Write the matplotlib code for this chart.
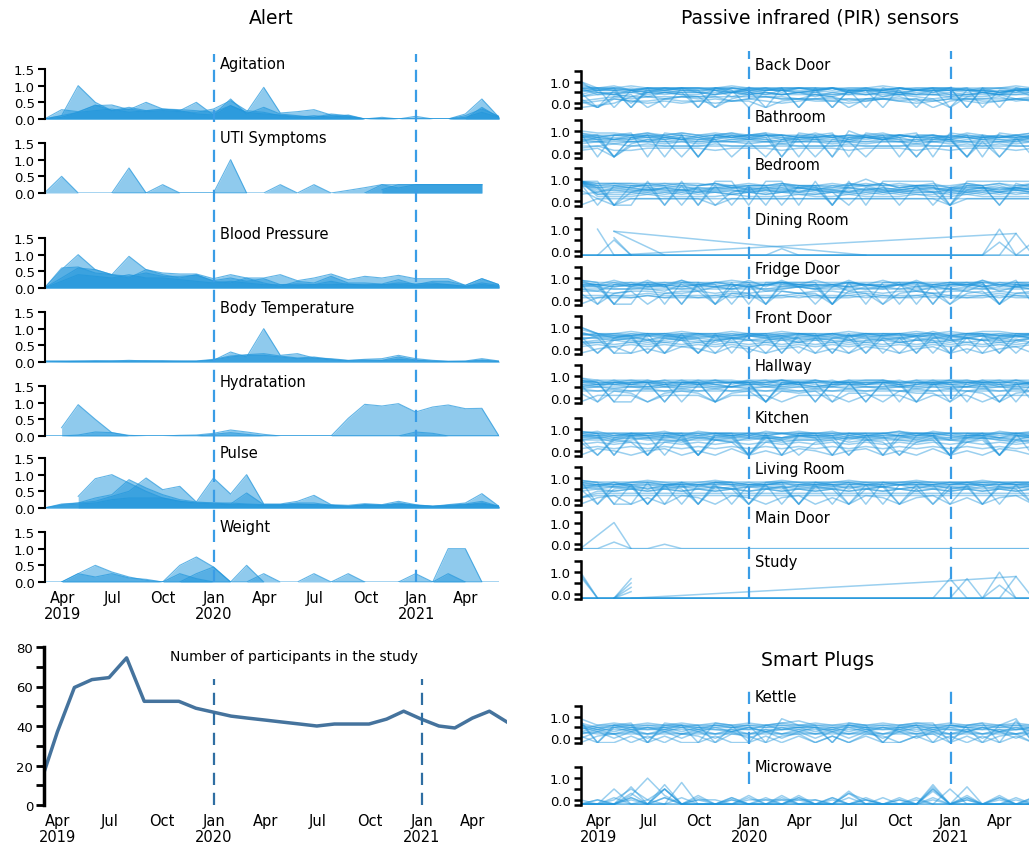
import matplotlib
matplotlib.use('Agg')
import matplotlib.pyplot as plt
from matplotlib.ticker import FixedLocator, FormatStrFormatter
import pandas as pd
from datetime import datetime

# month-end sample dates, Feb 2019 .. May 2021 (28 points)
months = list((pd.date_range('2019-03-01', periods=28, freq='MS') - pd.Timedelta(days=1)).to_pydatetime())

tick_dates = [datetime(2019, 4, 1), datetime(2019, 7, 1), datetime(2019, 10, 1),
              datetime(2020, 1, 1), datetime(2020, 4, 1), datetime(2020, 7, 1),
              datetime(2020, 10, 1), datetime(2021, 1, 1), datetime(2021, 4, 1)]
tick_labels = ['Apr\n2019', 'Jul', 'Oct', 'Jan\n2020', 'Apr', 'Jul', 'Oct', 'Jan\n2021', 'Apr']
year_marks = [datetime(2020, 1, 1), datetime(2021, 1, 1)]

# ---- Alerts (one list per participant group, None = no data) ----
agitation = [
    [0, .28, .22, .4, .42, .28, .5, .3, .28, .25, .2, .4, .2, .95, .18, .22, .28, .12, .08, 0, .05, 0, .08, 0, 0, 0, .35, .05],
    [0, .1, 1.0, .5, .25, .35, .25, .3, .25, .5, .12, .6, .15, .35, .15, .1, .05, .15, .1, 0, 0, 0, 0, 0, 0, .15, .6, .05],
    [0, .05, .2, .42, .25, .3, .22, .25, .22, .2, .3, .55, .25, .2, .1, .05, .1, .05, .12, 0, 0, 0, 0, 0, 0, .1, .3, .08],
    [0, .1, .2, .25, .3, .2, .25, .28, .25, .15, .12, .4, .2, .15, .12, .08, .05, .1, .05, 0, .02, 0, 0, 0, 0, .05, .2, .05],
]
uti_symptoms = [
    [0, .5, 0, 0, 0, 0, 0, 0, 0, 0, 0, 0, 0, 0, .25, 0, .25, 0, .08, .16, .25, .25, .25, .25, .25, .25, .25, None],
    [None] * 4 + [0, .75, 0] + [None] * 21,
    [None] * 6 + [0, .25, 0, 0, 0, 1.0, 0] + [None] * 15,
    [None] * 19 + [0, .25, .15, .25, .25, .25, .25, .25, None],
    [None] * 20 + [.1, .25, .25, .25, .25, .25, .25, None],
]
blood_pressure = [
    [0, .55, 1.0, .55, .4, .95, .55, .45, .42, .42, .28, .4, .3, .3, .4, .22, .3, .42, .25, .35, .3, .38, .28, .28, .28, .08, .28, .1],
    [0, .6, .63, .45, .4, .3, .55, .4, .3, .4, .2, .15, .3, .15, .05, .2, .15, .35, .15, .15, .12, .25, .1, .2, .2, .08, .28, .1],
    [0, .3, .6, .55, .4, .35, .45, .35, .35, .38, .22, .3, .2, .28, .1, .12, .1, .2, .1, .1, .1, .15, .12, .15, .1, .05, .15, .08],
    [0, .2, .4, .35, .3, .4, .3, .3, .25, .2, .15, .2, .15, .1, .1, .08, .1, .1, .12, .08, .1, .1, .08, .1, .1, .05, .1, .05],
]
body_temperature = [
    [.03, .02, .03, .02, .03, .02, .04, .02, .03, .02, .05, .3, .15, 1.0, .2, .25, .12, .1, .05, .08, .1, .2, .1, .05, .02, .03, .1, .03],
    [.02, .03, .02, .04, .03, .05, .03, .04, .02, .03, .08, .18, .22, .25, .18, .12, .15, .08, .04, .06, .05, .15, .06, .03, .02, .02, .06, .02],
    [0, .01, .02, .02, .02, .03, .02, .02, .02, .02, .06, .15, .2, .2, .15, .1, .12, .06, .03, .04, .04, .08, .05, .02, .01, .01, .04, .01],
]
hydratation = [
    [None, .25, .94, .5, .1, .02, 0, 0, 0, 0, .05, .1, .05, 0, 0, 0, 0, 0, 0, 0, 0, 0, 0, 0, 0, 0, 0, 0],
    [0] * 18 + [.53, .95, .9, .97, .72, .87, .93, .82, .83, 0],
    [0, 0, .03, .12, .1, 0, 0, 0, .02, .03, .08, .18, .12, .05, 0, 0, 0, 0, 0, 0, 0, 0, .12, .08, 0, 0, 0, 0],
]
pulse = [
    [None, None, .35, .88, 1.0, .75, .5, .3, .2, .15, .12, .1, .1, .08, .08, .1, .1, .08, .05, .08, .08, .1, .08, .05, .05, .1, .15, .05],
    [0, .12, .15, .3, .4, .85, .6, .4, .25, .18, .15, .15, .12, .1, .1, .12, .1, .08, .05, .1, .08, .12, .08, .05, .08, .1, .12, .05],
    [0, .1, .15, .2, .35, .5, .9, .55, .65, .18, .9, .42, 1.0, .12, .12, .2, .38, .1, .08, .13, .1, .2, .1, .05, .1, .15, .43, .05],
    [0, .08, .12, .15, .25, .3, .3, .3, .2, .15, .15, .12, .45, .1, .1, .15, .15, .08, .05, .1, .08, .15, .08, .05, .08, .12, .2, .05],
]
weight = [
    [None, 0, .25, .5, .3, .15, .05, 0] + [None] * 20,
    [None, 0, .25, .15, .25, .12, .08, 0] + [None] * 20,
    [None] * 7 + [0, .5, .75, .45, 0] + [None] * 16,
    [None] * 7 + [0, .25, .1, 0] + [None] * 17,
    [None] * 8 + [0, .25, .45, 0, .5, 0] + [None] * 14,
    [0] * 13 + [.25, 0, 0, .25] + [0] * 11,
    [None] * 17 + [0, .25, 0] + [None] * 8,
    [None] * 21 + [0, .25, 0, 1.0, 1.0, 0, None],
    [None] * 23 + [0, .25, 0, None, None],
]

participants = [10, 37, 59.5, 63.5, 64.5, 74.5, 52.5, 52.5, 52.5, 49, 47, 45, 44, 43,
                42, 41, 40, 41, 41, 41, 43.5, 47.5, 43.5, 40, 39, 44, 47.5, 42]

# ---- Sensors: one string per participant, one char per month
# digit = tenths, 'a' = 1.0, 'z' = axis floor (-0.2), '.' = no data
back_door = [
    "a7z67z7 z76z67z 7z6z76z 67z7z76", "9667667 6657667 6566676 6656566",
    "5776767 7676767 7767676 7766776", "3455454 3454545 4354545 4345445",
    "1232323 2312322 2312231 2322312", "667z656 6z56665 6z65656 7z66566",
    "776z777 5776z77 7677567 77z7765", "z.03333 3333322 2222222 1222222",
    "8786777 7777777 6766676 6666566", "7443555 5555444 4444444 4444444",
    "4676567 7656757 6757676 7667567", "1z21121 1211z12 1121212 z121121",
    "a550545 5454545 5454554 4545455", "2z34z23 3z24332 43z2343 2z33423",
    "6545676 5476545 6756546 5765476", "7666576 6757666 5766756 6675667",
    "3546354 4635465 3546354 6435463", "0121010 1012101 2101210 1210121",
    "7778777 7787777 7777877 7777787", "5z65765 z76567z 6756z76 567z657",
]
bathroom = [
    "88z78z8 z87888z 8za78z8 87z8z78", "9888889 8878887 7787787 7777777",
    "7666776 6766676 6676766 6676667", "5545545 4554545 5454554 5454545",
    "3343433 3433343 3343334 3343433", "77z7767 z7767z7 7z7767z 76z777z",
    "a998989 8988988 8787887 8787878", "2311222 2122212 2212221 2122212",
    "66z466z 66z5z66 z65z66z 66z5z66", "4565656 5656565 6565656 5656565",
    "8787878 7878787 7878787 7878787", "12z3333 3333333 3333333 3333333",
    "9z89z98 z8989z9 89z9889 z98z989", "6555555 5555555 5555555 5555555",
    "8676867 6786876 7867687 6876786", "7868786 8687868 7868687 8687868",
    "5767576 7567657 6757675 7567657", "9788978 7897887 9788978 8798789",
]
bedroom = [
    "99zz9z9 z99z99z 9z9z999 9z99999", "9777776 6666666 5665656 6566565",
    "9555555 5454545 4545454 4545454", "9333434 3434343 3434343 3434343",
    "87z77z7 z7z77z7 7z7a7z7 7z77z77", "9222322 2232223 2232223 2232222",
    "9666565 6565656 6565656 5656565", "51z1111 1111111 1111111 1111111",
    "9888787 7878787 7878787 7787878", "76z4654 6z46546 54z6456 4z56465",
    "3454545 4545454 5454545 4545454", "9888888 8777777 7777777 7666666",
    "8z7687z 7867z87 6z87867 z687z86", "z111111 1z11111 1111111 1z11111",
    "9676567 5675676 5767567 6576756", "9465465 4654564 6546545 6454654",
    "9787678 7867786 7687867 8677868", "8344343 4434344 3443434 4343434",
]
dining_room = [
    ".az.... ....... ....... .......", "..z.... ....... ....... .....8.",
    "..9.... ....... ...z... .......", ".z5z... ....... ....... .......",
    "..6z... ....... ....... .......", "..9..z. ....... ....... .......",
    "zzzzzzz zzzzz1z zzzzzzz zzzzzzz", "zzzzzzz zzzzzzz zzzzzzz zzzzazz",
    "zzzzzzz zzzzzzz zzzzzzz zzzzz8z", "zzzzzzz zzzzzzz zzzzzzz zzzz4z4",
]
fridge_door = [
    "98zz8z8 8z8z888 8z8z888 z888z88", "8777787 7877787 7787778 7778777",
    "6655665 6656566 5665656 6565665", "4434434 4343443 4434344 3443434",
    "2222322 2232223 2223222 3222322", "77z777z 77z7z77 7z777z7 z777z77",
    "96z6969 6z69696 z696z69 6z6969z", "1111211 1121112 1112111 2111211",
    "5555555 5555556 5555555 5555555", "8z7867z 8768z87 6z8768z 7868z76",
    "3z34z33 4z33z43 3z43z34 3z34z33", "7767676 7676767 6767676 7676767",
    "z121212 1212121 2121212 1212121", "9888888 8888888 8888888 8888888",
    "7686768 6876786 7687678 6786876", "5476547 4657456 5746574 6547465",
    "6767776 7676776 7767677 6776767", "8797879 7898787 9787978 7879787",
]
front_door = [
    "a7zz7z7 z7z77z7 7z7z77z 7z77z77", "7666666 6666666 6666666 6666666",
    "5545454 5454545 4545454 5454545", "3343434 3434343 4343434 3434343",
    "1212121 2121212 1212121 2121212", "6z56z65 z6566z6 5z66z56 z65z665",
    "a766767 7676767 6767676 8676767", "z01z0z1 0z10z01 z0z10z0 1z0z01z",
    "4z45z54 z45z45z 54z44z5 4z54z45", "7777777 7777777 7777777 7777777",
    "2323232 3232323 2323232 3232323", "55z55z5 5z55z55 z55z55z 55z55z5",
    "8565656 5656565 6565656 5656565", "6757675 7567657 6757675 7567657",
    "7676776 7767677 6767767 7677676", "4656465 6546564 5646546 6456465",
    "9778778 7787787 7787778 7878877", "3454345 4354453 5434534 4354435",
]
hallway = [
    "97zz7z7 7z77z77 z77z7z7 7z77z7z", "8777777 7777787 7777777 7787777",
    "6666566 6656666 5666656 6665666", "4545454 5454545 4545454 5454545",
    "3333333 3333333 3333333 3333333", "2z32z23 2z23z32 3z22z32 2z32z23",
    "77z77z7 7z77z77 z77z77z 77z77z7", "5555555 5555555 5555555 5555555",
    "8686868 6868686 8686868 6868686", "z111z11 1z111z1 11z111z 111z111",
    "6z7667z 6776z67 7z6676z 6776z67", "9888788 8878887 8788878 8878887",
    "4343434 3434343 4343434 3434343", "7867786 8677867 7867786 8677867",
    "6576756 7657567 6576756 7657567", "5665565 6556656 5665565 6556656",
    "8778877 7887788 8778877 7887788", "7677767 6776776 7677767 6776776",
]
kitchen = [
    "98z8z88 z88z8z8 8z88z88 8z88z8z", "8888888 8888888 8888888 8888888",
    "7677767 6776767 7676776 7677676", "5556555 5555655 5565555 5556555",
    "3434343 4343434 3434343 4343434", "1212121 2121212 1212121 2121212",
    "77z77z7 z77z7z7 77z77z7 7z77z77", "6z67z76 z76z667 6z76z67 7z66z76",
    "z10z01z 0z1z0z1 0z01z0z 1z0z10z", "9888888 8888888 8888898 8888888",
    "4z54z45 z54z45z 45z54z4 5z45z54", "6666666 6666666 6666666 6666666",
    "8787878 7878787 8787878 7878787", "7868787 8678768 7867878 8768687",
    "6757675 7567657 6757675 7567657", "8978897 9887989 8978897 9887989",
    "5645654 6546545 5645654 6546545", "7778777 7877787 7787777 8777877",
]
living_room = [
    "98zz8z8 z88z88z 888z888 8888888", "8888888 8888888 8888888 8888888",
    "6777777 7777777 7777777 7777777", "5666566 6656666 5666656 6665666",
    "1445454 5454545 4545454 5454545", "1333333 3333333 3333333 3333333",
    "77z7z7z 77z77z7 7z77z77 z77z77z", "5z56z65 z65z56z 65z56z5 z56z65z",
    "1222222 2222222 2222222 2222222", "9z77z77 z77z77z 77z77z7 7z77z77",
    "6565656 5656565 6565656 5656565", "z12z1z2 1z21z12 z1z21z1 2z1z12z",
    "8787878 7878787 8787878 7878787", "9878987 8987898 7898789 8789878",
    "7686768 6876786 7687678 6786876", "5767576 7567657 6757675 7567657",
    "8778877 7887788 8778877 7887788", "4545454 5454545 4545454 5454545",
]
main_door = [
    "zzzzzzz zzzzzzz zzzzzzz zzzzzzz", "z.az... ....... ....... .......",
    "zz1zz0z zzzzzzz zzzzzzz zzzzzzz",
]
study = [
    "az..... ....... ....... .......", "9z..... ....... ....... .......",
    "8z..... ....... ....... .......", "..z7... ....... ....... .......",
    "..z5... ....... ....... .......", "..z3... ....... ....... .......",
    "..z1... ....... ....... .......", "...z... ....... ....... .6...8.",
    "zzzzzzz zzzzzzz zzzzzzz z7zzzzz", "zzzzzzz zzzzzzz zzzzzzz zz7zzzz",
    "zzzzzzz zzzzzzz zzzzzzz zzzzazz", "zzzzzzz zzzzzzz zzzzzzz zzzz4zz",
    "zzzzzzz zzzzzzz zzzzzzz zzzzz8z",
]
kettle = [
    "8z56z65 6z56z96 5z65z56 z65z69z", "7555555 5555555 5555555 5555555",
    "6444444 4444444 4444444 4444444", "5353535 3535353 5353535 3535353",
    "3222222 2222222 2222222 2222222", "z12z1z2 1z21z12 z1z21z1 2z1z12z",
    "7z67z76 z76z678 6z76z67 7z67z8z", "4666666 6666666 6666666 6666666",
    "1zz1z1z z1zz1z1 z1z1zz1 z1z1z1z", "9676767 6767676 7676767 6767676",
    "0303030 3030303 0303030 3030303", "2424242 4242424 2424242 4242424",
    "5464546 4654645 5464546 4654645", "3535453 5435345 3535453 5435345",
    "6565656 5656565 6565656 5656565", "2323232 3232323 2323232 3232323",
]
microwave = [
    "zzz1z1z 1z1z1z1 z1z1z1z 1z1z1z1", "zzzzzzz zzzzzzz zzzzzzz zzzzzzz",
    "zz5zzz8 zzz2zzz zz4zzzz 7zzz2zz", "zzz6z7z zzzzzzz zz3zzzz 6zzzzzz",
    "zzz2a2z zzzzz2z zzzzzzz z5zzzzz", "zzz3z5z zzzzzz2 zzzzzzz 5zzzzzz",
    "z0z1z1z 0z0z0z0 z0z0z0z 0z0z0z0", "0zz0z5z 00z0000 0z30z0z 5z6zz1z",
    "zz0505z 2zz1z1z z1zz1zz 4z2z1zz", "z0zz0zz zz0zz0z 0zz0zz0 zz0zz0z",
    "zz1zzz1 zz1zzz1 zz1zzz1 zz1zzz1",
]

BLUE = '#2196dc'
DASH_BLUE = '#3a9de6'
LINE_BLUE = '#45739d'
W, H = 1029, 845

plt.rcParams['font.family'] = ['DejaVu Sans']
fig = plt.figure(figsize=(W / 100, H / 100), dpi=100)


def px_axes(x0, x1, y0, y1):
    return fig.add_axes([x0 / W, 1 - y1 / H, (x1 - x0) / W, (y1 - y0) / H])


def px_text(x, y, s, **kw):
    fig.text(x / W, 1 - y / H, s, **kw)


def levels(row):
    out = []
    for c in row.replace(' ', ''):
        if c == '.':
            out.append(None)
        elif c == 'z':
            out.append(-0.2)
        else:
            out.append(int(c, 16) / 10)
    return (out + [None] * 28)[:28]


def present(values):
    pairs = [(m, v) for m, v in zip(months, values) if v is not None]
    return [p[0] for p in pairs], [p[1] for p in pairs]


def style_left(ax, lw=1.5):
    for side in ['top', 'right', 'bottom']:
        ax.spines[side].set_visible(False)
    ax.spines['left'].set_linewidth(lw)
    ax.tick_params(axis='y', which='both', length=5, width=lw, labelsize=9.5, pad=2)
    ax.tick_params(axis='x', length=0, labelbottom=False)
    ax.patch.set_alpha(0)


def date_labels(ax, pad):
    ax.set_xticks(tick_dates)
    ax.set_xticklabels(tick_labels, fontsize=10.5, linespacing=1.05)
    ax.tick_params(axis='x', length=0, pad=pad, labelbottom=True)


x_range = (months[0], months[-1])

# ---------------- Alerts ----------------
alert_panels = [('Agitation', agitation, 70, 65), ('UTI Symptoms', uti_symptoms, 144, 139),
                ('Blood Pressure', blood_pressure, 239, 234.7), ('Body Temperature', body_temperature, 313, 308.7),
                ('Hydratation', hydratation, 387, 382.5), ('Pulse', pulse, 459, 453.7),
                ('Weight', weight, 533, 527.3)]
for name, series, top, ty in alert_panels:
    ax = px_axes(44.5, 499, top, top + 50)
    for s in series:
        xs, ys = present(s)
        ax.fill_between(xs, 0, ys, color=BLUE, alpha=0.5, lw=0)
        ax.plot(xs, ys, color=BLUE, lw=0.8, alpha=0.7)
    ax.set_xlim(x_range)
    ax.set_ylim(0, 1.5)
    ax.set_yticks([0, 0.5, 1.0, 1.5])
    ax.yaxis.set_major_formatter(FormatStrFormatter('%.1f'))
    style_left(ax)
    if name == 'Weight':
        date_labels(ax, 6)
    px_text(220, ty, name, fontsize=10.5, ha='left', va='center')

ov = px_axes(44.5, 499, 55, 583)
ov.set_xlim(x_range)
ov.axis('off')
for d in year_marks:
    ov.axvline(d, color=DASH_BLUE, lw=1.6, ls=(0, (5.5, 3.5)))

px_text(271, 18, 'Alert', fontsize=13.5, ha='center', va='center')

# ---------------- Participants ----------------
ax = px_axes(44.3, 507, 648, 806)
ax.plot(months, participants, color=LINE_BLUE, lw=2.5)
ax.vlines(year_marks, 0, 64, color='#2f6ea2', lw=1.6, ls=(0, (5.5, 3.5)))
ax.set_xlim(datetime(2019, 3, 8), months[-1])
ax.set_ylim(0, 80)
ax.yaxis.set_major_locator(FixedLocator([0, 20, 40, 60, 80]))
ax.yaxis.set_minor_locator(FixedLocator([10, 30, 50, 70]))
style_left(ax, lw=2.5)
ax.tick_params(axis='y', which='both', length=6, width=2)
date_labels(ax, 6)
px_text(293.5, 657.5, 'Number of participants in the study', fontsize=10, ha='center', va='center')

# ---------------- PIR sensors and smart plugs ----------------
sensor_panels = [('Back Door', back_door, 71.7, 65), ('Bathroom', bathroom, 121, 117.7),
                 ('Bedroom', bedroom, 169.3, 166), ('Dining Room', dining_room, 219.3, 221),
                 ('Fridge Door', fridge_door, 268.3, 269.7), ('Front Door', front_door, 317.3, 318.7),
                 ('Hallway', hallway, 366, 366.7), ('Kitchen', kitchen, 419.3, 419),
                 ('Living Room', living_room, 468.3, 469.3), ('Main Door', main_door, 512.7, 518.7),
                 ('Study', study, 562.3, 563), ('Kettle', kettle, 706.7, 697.7),
                 ('Microwave', microwave, 768.3, 767.7)]
unit = 21.7
for name, rows, top, ty in sensor_panels:
    ax = px_axes(580.5, 1033, top, top + 1.73 * unit)
    for r in rows:
        xs, ys = present(levels(r))
        ax.plot(xs, ys, color=BLUE, lw=1.1, alpha=0.45)
    ax.set_xlim(x_range)
    ax.set_ylim(-0.23, 1.5)
    ax.yaxis.set_major_locator(FixedLocator([0, 1.0]))
    ax.yaxis.set_minor_locator(FixedLocator([-0.23, 0.5, 1.5]))
    ax.yaxis.set_major_formatter(FormatStrFormatter('%.1f'))
    style_left(ax, lw=1.8)
    if name == 'Microwave':
        date_labels(ax, 6)
    px_text(755, ty, name, fontsize=10.5, ha='left', va='center')

for y0, y1 in [(52, 600), (691, 785)]:
    ov = px_axes(580.5, 1033, y0, y1)
    ov.set_xlim(x_range)
    ov.axis('off')
    for d in year_marks:
        ov.axvline(d, color=DASH_BLUE, lw=1.6, ls=(0, (5.5, 3.5)))

px_text(820, 18, 'Passive infrared (PIR) sensors', fontsize=13.5, ha='center', va='center')
px_text(818, 661, 'Smart Plugs', fontsize=13.5, ha='center', va='center')

fig.savefig('out.png', dpi=100)
